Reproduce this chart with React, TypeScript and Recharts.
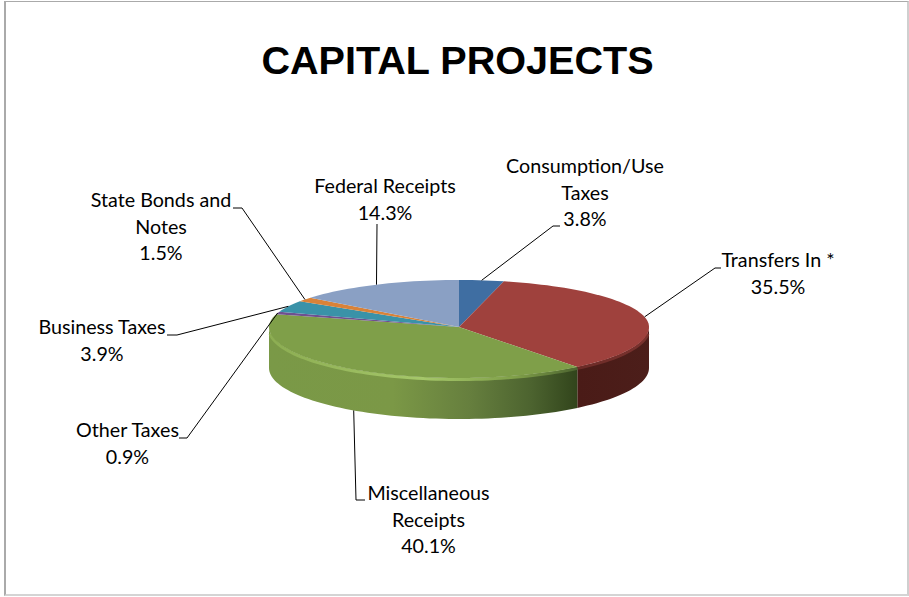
import React from 'react';
import { PieChart, Pie } from 'recharts';

const categories = [
  'Consumption/Use Taxes',
  'Transfers In *',
  'Miscellaneous Receipts',
  'Other Taxes',
  'Business Taxes',
  'State Bonds and Notes',
  'Federal Receipts',
];
const shares = [3.8, 35.5, 40.1, 0.9, 3.9, 1.5, 14.3];
const topColors = ['#3f6ea2', '#9f413d', '#7f9f49', '#6f5090', '#3a92a8', '#d98238', '#8aa0c4'];

// how each category name wraps on the chart
const labelLines = [
  ['Consumption/Use', 'Taxes'],
  ['Transfers In *'],
  ['Miscellaneous', 'Receipts'],
  ['Other Taxes'],
  ['Business Taxes'],
  ['State Bonds and', 'Notes'],
  ['Federal Receipts'],
];

const W = 909;
const H = 597;
const CX = 459;
const CY = 327;
const RX = 190;
const RY_BACK = 47;
const RY_FRONT = 51;
const DEPTH = 41;

// text centre and first baseline, then leader elbow and leader end
const labelLayout = [
  { x: 585, y: 173, elbow: [553, 226], end: [560, 226] },
  { x: 778, y: 267, elbow: [715, 268], end: [721, 268] },
  { x: 428.5, y: 500, elbow: [356, 500], end: [365, 500] },
  { x: 127.5, y: 437, elbow: [187, 438], end: [179, 438] },
  { x: 102, y: 334, elbow: [177, 335], end: [167, 335] },
  { x: 161, y: 207, elbow: [242, 208], end: [233, 208] },
  { x: 385, y: 193, elbow: [377, 224], end: [377, 224] },
];

const pieData = categories.map((name, i) => ({ name, value: shares[i], color: topColors[i] }));

// point on the squashed rim, theta is clockwise from 12 o'clock
const rim = (theta: number, cx: number, cy: number, r: number) => {
  const rad = (theta * Math.PI) / 180;
  const c = Math.cos(rad);
  const ry = c > 0 ? RY_BACK : RY_FRONT;
  return [cx + r * Math.sin(rad), cy - ((ry * r) / RX) * c];
};

const arcPoints = (from: number, to: number, cx: number, cy: number, r: number, dy = 0) => {
  const steps = Math.max(2, Math.ceil(Math.abs(to - from) / 2));
  const pts: string[] = [];
  for (let i = 0; i <= steps; i++) {
    const [x, y] = rim(from + ((to - from) * i) / steps, cx, cy, r);
    pts.push(`${x.toFixed(2)} ${(y + dy).toFixed(2)}`);
  }
  return pts;
};

const TopSlice = (props: any) => {
  const { cx, cy, outerRadius, startAngle, endAngle, index } = props;
  const from = 90 - startAngle;
  const to = 90 - endAngle;
  const pts = arcPoints(from, to, cx, cy, outerRadius);
  return <path d={`M${cx} ${cy} L${pts.join(' L')} Z`} fill={topColors[index]} />;
};

const wallFills: Record<number, string> = { 1: 'url(#wallRed)', 2: 'url(#wallGreen)' };
const rimStrokes: Record<number, string> = { 1: 'url(#rimRed)', 2: 'url(#rimGreen)' };

const WallSlice = (props: any) => {
  const { cx, cy, outerRadius, startAngle, endAngle, index } = props;
  const from = Math.max(90 - startAngle, 90);
  const to = Math.min(90 - endAngle, 270);
  if (to <= from) return null;
  const upper = arcPoints(from, to, cx, cy, outerRadius);
  const lower = arcPoints(to, from, cx, cy, outerRadius, DEPTH);
  // the bevel stays inside the wall, so it stops short of the far left and right edges
  const bevel = arcPoints(Math.max(from, 96), Math.min(to, 264), cx, cy, outerRadius, 1.5);
  return (
    <g>
      <path d={`M${upper.join(' L')} L${lower.join(' L')} Z`} fill={wallFills[index] || topColors[index]} />
      <path d={`M${bevel.join(' L')}`} fill="none" stroke={rimStrokes[index] || 'none'} strokeWidth={3} />
    </g>
  );
};

const SliceLabel = (props: any) => {
  const { cx, cy, outerRadius, midAngle, index } = props;
  const theta = 90 - midAngle;
  const onFront = Math.cos((theta * Math.PI) / 180) < -0.5;
  const [ax, ay] = rim(theta, cx, cy, outerRadius);
  const layout = labelLayout[index];
  const lines = [...labelLines[index], `${shares[index].toFixed(1)}%`];
  return (
    <g>
      <polyline
        points={`${ax},${ay + (onFront ? DEPTH : 0)} ${layout.elbow.join(',')} ${layout.end.join(',')}`}
        fill="none"
        stroke="#000"
        strokeWidth={1}
      />
      <text x={layout.x} y={layout.y} textAnchor="middle" fontFamily="Lato" fontSize={19.7} fill="#000">
        {lines.map((line, i) => (
          <tspan key={i} x={layout.x} dy={i === 0 ? 0 : 26.5}>
            {line}
          </tspan>
        ))}
      </text>
    </g>
  );
};

export default function App() {
  return (
    <div
      style={{
        position: 'absolute',
        left: 0,
        top: 0,
        width: W,
        height: H,
        background: '#fff',
        overflow: 'hidden',
      }}
    >
      <div
        style={{
          position: 'absolute',
          left: 4,
          top: 1,
          width: 901,
          height: 592,
          borderTop: '1.5px solid #aaaaaa',
          borderLeft: '2px solid #aaaaaa',
          borderRight: '2px solid #cfcfcf',
          borderBottom: '2px solid #d4d4d4',
        }}
      />
      <div
        style={{
          position: 'absolute',
          left: 0,
          width: 915,
          top: 37,
          textAlign: 'center',
          fontFamily: 'Liberation Sans',
          fontWeight: 700,
          fontSize: 39.6,
          lineHeight: '46px',
          color: '#000',
        }}
      >
        CAPITAL PROJECTS
      </div>
      <div style={{ position: 'absolute', left: 0, top: 0 }}>
        <PieChart width={W} height={H} margin={{ top: 0, right: 0, bottom: 0, left: 0 }}>
          <defs>
            <linearGradient id="wallGreen" gradientUnits="userSpaceOnUse" x1={269} y1={0} x2={578} y2={0}>
              <stop offset="0" stopColor="#7a9947" />
              <stop offset="0.4" stopColor="#7b9846" />
              <stop offset="0.65" stopColor="#667f3e" />
              <stop offset="0.85" stopColor="#4c632f" />
              <stop offset="1" stopColor="#31441b" />
            </linearGradient>
            <linearGradient id="rimGreen" gradientUnits="userSpaceOnUse" x1={269} y1={0} x2={578} y2={0}>
              <stop offset="0" stopColor="#8cad52" />
              <stop offset="0.5" stopColor="#a5c76a" />
              <stop offset="0.8" stopColor="#7f9f49" />
              <stop offset="1" stopColor="#4c632f" />
            </linearGradient>
            <linearGradient id="wallRed" gradientUnits="userSpaceOnUse" x1={578} y1={0} x2={649} y2={0}>
              <stop offset="0" stopColor="#4a1b17" />
              <stop offset="1" stopColor="#4c1e1a" />
            </linearGradient>
            <linearGradient id="rimRed" gradientUnits="userSpaceOnUse" x1={578} y1={0} x2={649} y2={0}>
              <stop offset="0" stopColor="#6b2b27" />
              <stop offset="1" stopColor="#7a322e" />
            </linearGradient>
          </defs>
          <Pie
            data={pieData}
            dataKey="value"
            nameKey="name"
            cx={CX}
            cy={CY}
            outerRadius={RX}
            startAngle={90}
            endAngle={-270}
            stroke="none"
            shape={WallSlice}
            isAnimationActive={false}
          />
          <Pie
            data={pieData}
            dataKey="value"
            nameKey="name"
            cx={CX}
            cy={CY}
            outerRadius={RX}
            startAngle={90}
            endAngle={-270}
            stroke="none"
            shape={TopSlice}
            label={SliceLabel}
            labelLine={false}
            isAnimationActive={false}
          />
        </PieChart>
      </div>
    </div>
  );
}
